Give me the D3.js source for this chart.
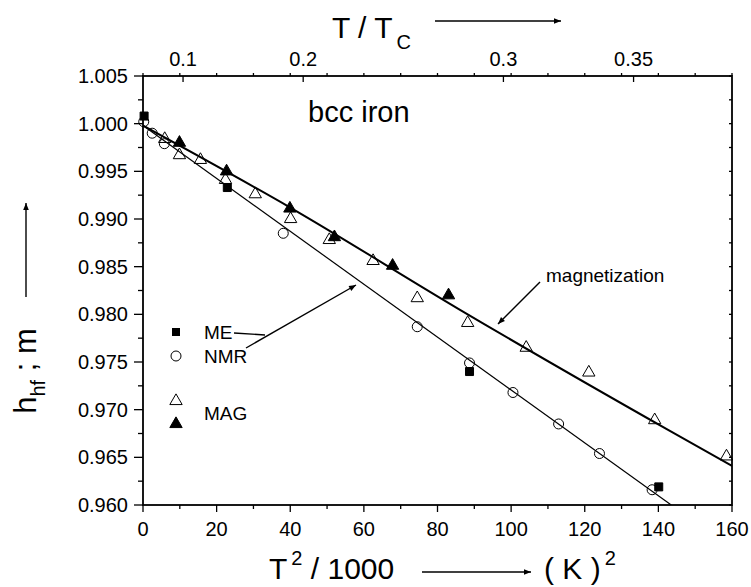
<!DOCTYPE html>
<html>
<head>
<meta charset="utf-8">
<script src="https://cdn.jsdelivr.net/npm/d3@7"></script>
<style>
  body { margin: 0; background: #fff; }
  text { font-family: "Liberation Sans", Arial, sans-serif; fill: #000; }
</style>
</head>
<body>
<div id="chart"></div>
<script>
const width = 751;
const height = 587;
const margin = { top: 76, right: 19, bottom: 82, left: 143 };

// x = T^2/1000 (K^2), y = h_hf ; m
const meX = [0.3, 22.9, 88.7, 140.1];
const meY = [1.0008, 0.9933, 0.9740, 0.9619];

const nmrX = [0.2, 2.5, 5.8, 38.1, 74.5, 88.7, 100.5, 112.9, 124.0, 138.3];
const nmrY = [1.0002, 0.9990, 0.9979, 0.9885, 0.9787, 0.9749, 0.9718, 0.9685, 0.9654, 0.9616];

const magOpenX = [5.9, 9.9, 15.6, 22.4, 30.5, 40.1, 50.6, 62.5, 74.5, 88.2, 104.1, 121.1, 139.0, 158.5];
const magOpenY = [0.9984, 0.9967, 0.9962, 0.9941, 0.9926, 0.9900, 0.9878, 0.9856, 0.9817, 0.9791, 0.9765, 0.9739, 0.9689, 0.9651];

const magFillX = [9.9, 22.7, 39.9, 52.0, 67.8, 83.0];
const magFillY = [0.9980, 0.9950, 0.9911, 0.9881, 0.9851, 0.9820];

// fitted curves
const magFitX = [0, 40, 86, 143, 160];
const magFitY = [0.9998, 0.9912, 0.9805, 0.9678, 0.9641];
const nmrFitX = [0, 143.5];
const nmrFitY = [0.9998, 0.9600];

const xTicks = [0, 20, 40, 60, 80, 100, 120, 140, 160];
const xMinor = d3.range(0, 161, 10);
const yTicks = [0.960, 0.965, 0.970, 0.975, 0.980, 0.985, 0.990, 0.995, 1.000, 1.005];
const yMinor = d3.range(0, 19).map(i => 0.960 + i * 0.0025);
const topTicks = [0.1, 0.2, 0.3, 0.35];
const tc = 1043; // Curie temperature of iron, K

const x = d3.scaleLinear().domain([0, 160]).range([margin.left, width - margin.right]);
const y = d3.scaleLinear().domain([0.960, 1.005]).range([height - margin.bottom, margin.top]);
const toX = t => Math.pow(t * tc, 2) / 1000;

const svg = d3.select("#chart").append("svg")
    .attr("width", width)
    .attr("height", height);

svg.append("defs").append("marker")
    .attr("id", "head")
    .attr("viewBox", "0 0 10 10")
    .attr("refX", 10).attr("refY", 5)
    .attr("markerWidth", 9).attr("markerHeight", 7)
    .attr("markerUnits", "userSpaceOnUse")
    .attr("orient", "auto")
  .append("path")
    .attr("d", "M0,1 L10,5 L0,9 Z")
    .attr("fill", "#000");

svg.append("clipPath").attr("id", "plot")
  .append("rect")
    .attr("x", x(0)).attr("y", y(1.005))
    .attr("width", x(160) - x(0)).attr("height", y(0.960) - y(1.005));

// axes
const yBot = height - margin.bottom;
const yTop = margin.top;
const xLeft = margin.left;
const xRight = width - margin.right;

const ax = svg.append("g").attr("stroke", "#000").attr("stroke-width", 1.3);
xMinor.forEach(v => {
    const major = v % 20 === 0;
    ax.append("line").attr("x1", x(v)).attr("x2", x(v))
        .attr("y1", yBot).attr("y2", yBot + (major ? 7 : 4));
    ax.append("line").attr("x1", x(v)).attr("x2", x(v))
        .attr("y1", yTop).attr("y2", yTop - 3);
});
yMinor.forEach((v, i) => {
    const major = i % 2 === 0;
    ax.append("line").attr("x1", xLeft).attr("x2", xLeft - (major ? 9 : 5))
        .attr("y1", y(v)).attr("y2", y(v));
    ax.append("line").attr("x1", xRight).attr("x2", xRight - 3)
        .attr("y1", y(v)).attr("y2", y(v));
});
topTicks.forEach(t => {
    ax.append("line").attr("x1", x(toX(t))).attr("x2", x(toX(t)))
        .attr("y1", yTop).attr("y2", yTop + 6);
});

svg.append("rect")
    .attr("x", xLeft).attr("y", yTop)
    .attr("width", xRight - xLeft).attr("height", yBot - yTop)
    .attr("fill", "none").attr("stroke", "#000").attr("stroke-width", 1.8);

svg.selectAll(".xl").data(xTicks).enter().append("text")
    .attr("x", d => x(d)).attr("y", yBot + 31)
    .attr("text-anchor", "middle").attr("font-size", 20)
    .text(d => d);

svg.selectAll(".yl").data(yTicks).enter().append("text")
    .attr("x", xLeft - 15).attr("y", d => y(d) + 7)
    .attr("text-anchor", "end").attr("font-size", 20)
    .text(d => d3.format(".3f")(d));

svg.selectAll(".tl").data(topTicks).enter().append("text")
    .attr("x", d => x(toX(d))).attr("y", yTop - 10)
    .attr("text-anchor", "middle").attr("font-size", 20)
    .text(d => d);

// fits
const line = d3.line().x(d => x(d[0])).y(d => y(d[1])).curve(d3.curveMonotoneX);
const plot = svg.append("g").attr("clip-path", "url(#plot)");
plot.append("path")
    .attr("d", line(d3.zip(magFitX, magFitY)))
    .attr("fill", "none").attr("stroke", "#000").attr("stroke-width", 2);
plot.append("path")
    .attr("d", line(d3.zip(nmrFitX, nmrFitY)))
    .attr("fill", "none").attr("stroke", "#000").attr("stroke-width", 1.2);

// points
const sq = d3.symbol(d3.symbolSquare, 64)();
const tri = d3.symbol(d3.symbolTriangle, 66)();

function drawPoints(xs, ys, kind) {
    const g = svg.append("g");
    d3.zip(xs, ys).forEach(([a, b]) => {
        const cx = x(a), cy = y(b);
        if (kind === "circle") {
            g.append("circle").attr("cx", cx).attr("cy", cy).attr("r", 5)
                .attr("fill", "none").attr("stroke", "#000").attr("stroke-width", 1);
        } else {
            g.append("path").attr("d", kind === "square" ? sq : tri)
                .attr("transform", `translate(${cx},${cy})`)
                .attr("fill", kind === "open" ? "none" : "#000")
                .attr("stroke", "#000").attr("stroke-width", 1);
        }
    });
}
drawPoints(nmrX, nmrY, "circle");
drawPoints(magOpenX, magOpenY, "open");
drawPoints(magFillX, magFillY, "filled");
drawPoints(meX, meY, "square");

// legend
svg.append("path").attr("d", sq).attr("transform", "translate(176,332)").attr("fill", "#000");
svg.append("circle").attr("cx", 176).attr("cy", 356).attr("r", 5)
    .attr("fill", "none").attr("stroke", "#000");
svg.append("path").attr("d", tri).attr("transform", "translate(176,401)")
    .attr("fill", "none").attr("stroke", "#000");
svg.append("path").attr("d", tri).attr("transform", "translate(176,424)")
    .attr("fill", "#000").attr("stroke", "#000");
svg.append("text").attr("x", 204).attr("y", 339).attr("font-size", 19).text("ME");
svg.append("text").attr("x", 204).attr("y", 363).attr("font-size", 19).text("NMR");
svg.append("text").attr("x", 204).attr("y", 420).attr("font-size", 19).text("MAG");

// annotations
const ann = svg.append("g").attr("stroke", "#000").attr("stroke-width", 1.4).attr("fill", "none");
ann.append("line").attr("x1", 234).attr("y1", 333).attr("x2", 265).attr("y2", 335);
ann.append("line").attr("x1", 246).attr("y1", 348).attr("x2", 356).attr("y2", 285)
    .attr("marker-end", "url(#head)");
ann.append("line").attr("x1", 540).attr("y1", 282).attr("x2", 498).attr("y2", 324)
    .attr("marker-end", "url(#head)");

svg.append("text").attr("x", 546).attr("y", 282).attr("font-size", 19).text("magnetization");
svg.append("text").attr("x", 308).attr("y", 122).attr("font-size", 29).text("bcc iron");

// axis titles
const tt = svg.append("text").attr("x", 332).attr("y", 38).attr("font-size", 30);
tt.append("tspan").text("T / T");
tt.append("tspan").attr("font-size", 20).attr("dy", 11).attr("dx", 4).text("C");
ann.append("line").attr("x1", 435).attr("y1", 21).attr("x2", 561).attr("y2", 21)
    .attr("marker-end", "url(#head)");

const bt = svg.append("text").attr("x", 269).attr("y", 579).attr("font-size", 30);
bt.append("tspan").text("T");
bt.append("tspan").attr("font-size", 20).attr("dy", -14).attr("dx", 4).text("2");
bt.append("tspan").attr("dy", 14).text(" / 1000");
ann.append("line").attr("x1", 422).attr("y1", 572).attr("x2", 531).attr("y2", 572)
    .attr("marker-end", "url(#head)");
const kt = svg.append("text").attr("x", 544).attr("y", 579).attr("font-size", 30);
kt.append("tspan").text("( K )");
kt.append("tspan").attr("font-size", 20).attr("dy", -14).attr("dx", 4).text("2");

const lt = svg.append("text").attr("transform", "translate(36,371) rotate(-90)")
    .attr("text-anchor", "middle").attr("font-size", 31);
lt.append("tspan").text("h");
lt.append("tspan").attr("font-size", 20).attr("dy", 9).text("hf");
lt.append("tspan").attr("dy", -9).text(" ; m");
ann.append("line").attr("x1", 26).attr("y1", 297).attr("x2", 26).attr("y2", 203)
    .attr("marker-end", "url(#head)");
</script>
</body>
</html>
